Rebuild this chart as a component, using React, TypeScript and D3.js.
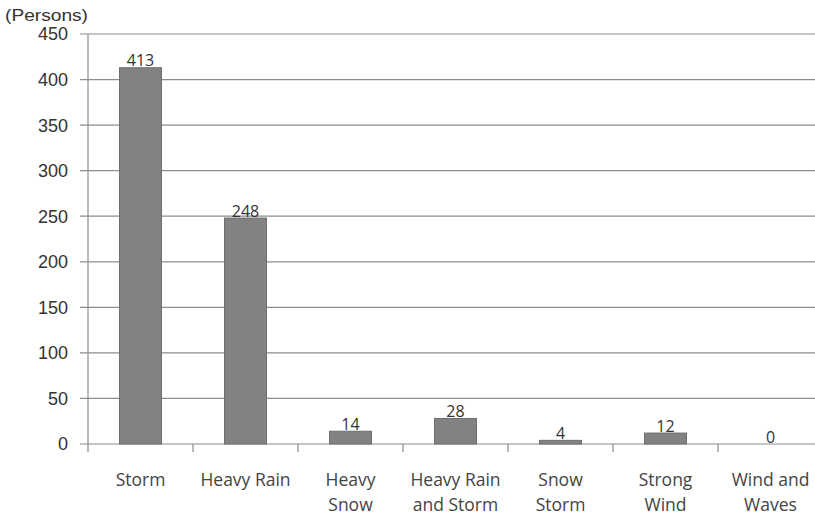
import React from "react";
import * as d3 from "d3";

const categories: string[][] = [
  ["Storm"],
  ["Heavy Rain"],
  ["Heavy", "Snow"],
  ["Heavy Rain", "and Storm"],
  ["Snow", "Storm"],
  ["Strong", "Wind"],
  ["Wind and", "Waves"],
];
const values: number[] = [413, 248, 14, 28, 4, 12, 0];
const yTicks: number[] = [0, 50, 100, 150, 200, 250, 300, 350, 400, 450];
const unitLabel = "(Persons)";

export default function App() {
  const W = 815, H = 515;
  const left = 88, right = 823, top = 34, bottom = 444;
  const keys = categories.map((c) => c.join(" "));
  const x = d3.scaleBand<string>().domain(keys).range([left, right]).paddingInner(0.6).paddingOuter(0.3);
  const band = d3.scaleBand<string>().domain(keys).range([left, right]);
  const y = d3.scaleLinear().domain([0, 450]).range([bottom, top]);
  const grid = "#8c8c8c";
  return (
    <svg width={W} height={H} style={{ position: "absolute", left: 0, top: 0, background: "#fff" }}>
      {yTicks.map((t) => (
        <g key={t}>
          <line x1={left - 8} x2={W} y1={y(t)} y2={y(t)} stroke={grid} strokeWidth={1.2} />
          <text x={68} y={y(t)} dy="0.36em" textAnchor="end" fontFamily="Liberation Sans, Arial, sans-serif" fontSize={18} fill="#333">
            {t}
          </text>
        </g>
      ))}
      <line x1={left} x2={left} y1={top} y2={bottom + 8} stroke={grid} strokeWidth={1.2} />
      {keys.map((k) => (
        <line key={"t" + k} x1={(band(k) as number) + band.bandwidth()} x2={(band(k) as number) + band.bandwidth()} y1={bottom} y2={bottom + 8} stroke={grid} strokeWidth={1.2} />
      ))}
      {keys.map((k, i) => {
        const bx = x(k) as number;
        const cx = bx + x.bandwidth() / 2;
        return (
          <g key={k}>
            <rect x={bx} y={y(values[i])} width={x.bandwidth()} height={bottom - y(values[i])} fill="#828282" stroke="#6e6e6e" strokeWidth={1} />
            <text x={cx} y={y(values[i]) - 1.5} textAnchor="middle" fontFamily="Open Sans, Noto Sans, sans-serif" fontSize={16} fill="#333">
              {values[i]}
            </text>
            {categories[i].map((line, j) => (
              <text key={j} x={cx} y={486 + j * 25} textAnchor="middle" fontFamily="Open Sans, Noto Sans, sans-serif" fontSize={17.5} fill="#444">
                {line}
              </text>
            ))}
          </g>
        );
      })}
      <text x={5} y={21} fontFamily="Liberation Sans, Arial, sans-serif" fontSize={16} textLength={83} lengthAdjust="spacingAndGlyphs" fill="#333">
        {unitLabel}
      </text>
    </svg>
  );
}
